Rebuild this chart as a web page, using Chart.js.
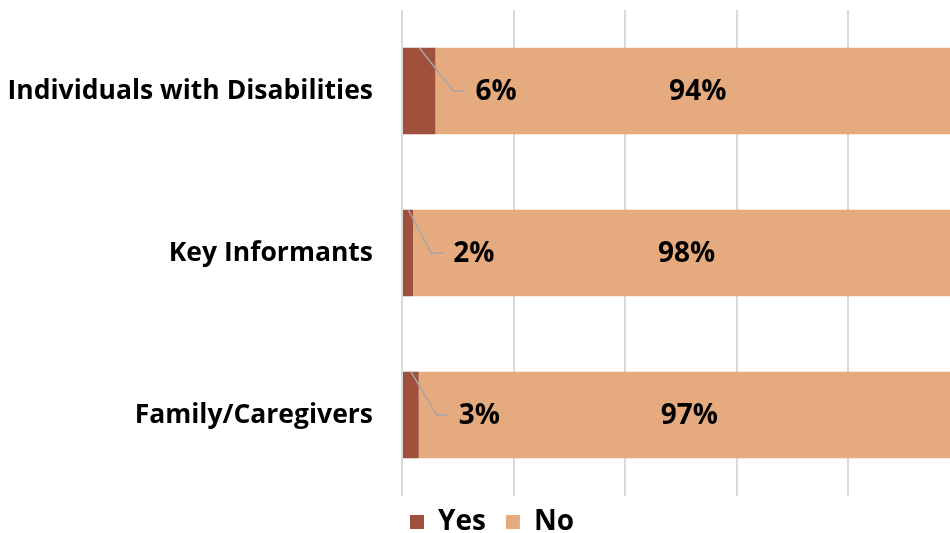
<!DOCTYPE html>
<html>
<head>
<meta charset="utf-8">
<script src="https://cdn.jsdelivr.net/npm/chart.js@4"></script>
<style>
  html, body { margin: 0; padding: 0; background: #fff; overflow: hidden; }
  #wrap { width: 985px; height: 554px; }
</style>
</head>
<body>
<div id="wrap"><canvas id="barChart" width="985" height="554"></canvas></div>
<script>
var categories = ['Individuals with Disabilities', 'Key Informants', 'Family/Caregivers'];
var seriesNames = ['Yes', 'No'];
var yesValues = [6, 2, 3];
var noValues = [94, 98, 97];
var xTicks = [0, 20, 40, 60, 80, 100];

var FONT = '"Open Sans"';

// percent labels; "Yes" ones sit to the right with a leader line
var percentLabels = {
  id: 'percentLabels',
  afterLayout: function(chart) {
    // pull the legend row up and centre it under the plot
    var lg = chart.legend;
    lg.top -= 8;
    lg.bottom -= 8;
    lg.left += 12;
    lg.right += 12;
  },
  afterDatasetsDraw: function(chart) {
    var ctx = chart.ctx;
    ctx.save();
    ctx.font = 'bold 28px ' + FONT;
    ctx.fillStyle = '#000';
    ctx.textBaseline = 'middle';

    chart.getDatasetMeta(1).data.forEach(function(bar, i) {
      ctx.textAlign = 'center';
      ctx.fillText(noValues[i] + '%', (bar.x + bar.base) / 2, bar.y + 1);
    });

    chart.getDatasetMeta(0).data.forEach(function(bar, i) {
      var top = bar.y - bar.height / 2;
      var lx = bar.x + 40;
      ctx.strokeStyle = '#a6a6a6';
      ctx.lineWidth = 1.5;
      ctx.beginPath();
      ctx.moveTo((bar.x + bar.base) / 2, top);
      ctx.lineTo(lx - 22, bar.y);
      ctx.lineTo(lx - 10, bar.y);
      ctx.stroke();
      ctx.textAlign = 'left';
      ctx.fillText(yesValues[i] + '%', lx, bar.y + 1);
    });
    ctx.restore();
  }
};

var ctx = document.getElementById('barChart').getContext('2d');

var myBarChart = new Chart(ctx, {
  type: 'bar',
  data: {
    labels: categories,
    datasets: [{
      label: seriesNames[0],
      data: yesValues,
      backgroundColor: '#a0513d'
    }, {
      label: seriesNames[1],
      data: noValues,
      backgroundColor: '#e5aa7e'
    }]
  },
  options: {
    indexAxis: 'y',
    responsive: false,
    animation: false,
    barPercentage: 1,
    categoryPercentage: 0.535,
    layout: { padding: { top: 10, left: 0, right: 25, bottom: 0 } },
    scales: {
      x: {
        stacked: true,
        min: 0,
        max: 100,
        afterBuildTicks: function(scale) {
          scale.ticks = xTicks.map(function(v) { return { value: v }; });
        },
        ticks: { display: false },
        grid: { color: '#d9d9d9', lineWidth: 2, drawTicks: false },
        border: { display: false }
      },
      y: {
        stacked: true,
        afterFit: function(scale) {
          scale.width = 402;
          scale.paddingTop = 0;
          scale.paddingBottom = 0;
        },
        ticks: {
          color: '#000',
          padding: 29,
          font: { family: FONT, size: 26.5, weight: 'bold' }
        },
        grid: { display: false, drawTicks: false },
        border: { display: false }
      }
    },
    plugins: {
      tooltip: { enabled: false },
      legend: {
        position: 'bottom',
        labels: {
          color: '#000',
          boxWidth: 14,
          boxHeight: 14,
          padding: 20,
          font: { family: FONT, size: 28, weight: 'bold' }
        }
      }
    }
  },
  plugins: [percentLabels]
});
</script>
</body>
</html>
